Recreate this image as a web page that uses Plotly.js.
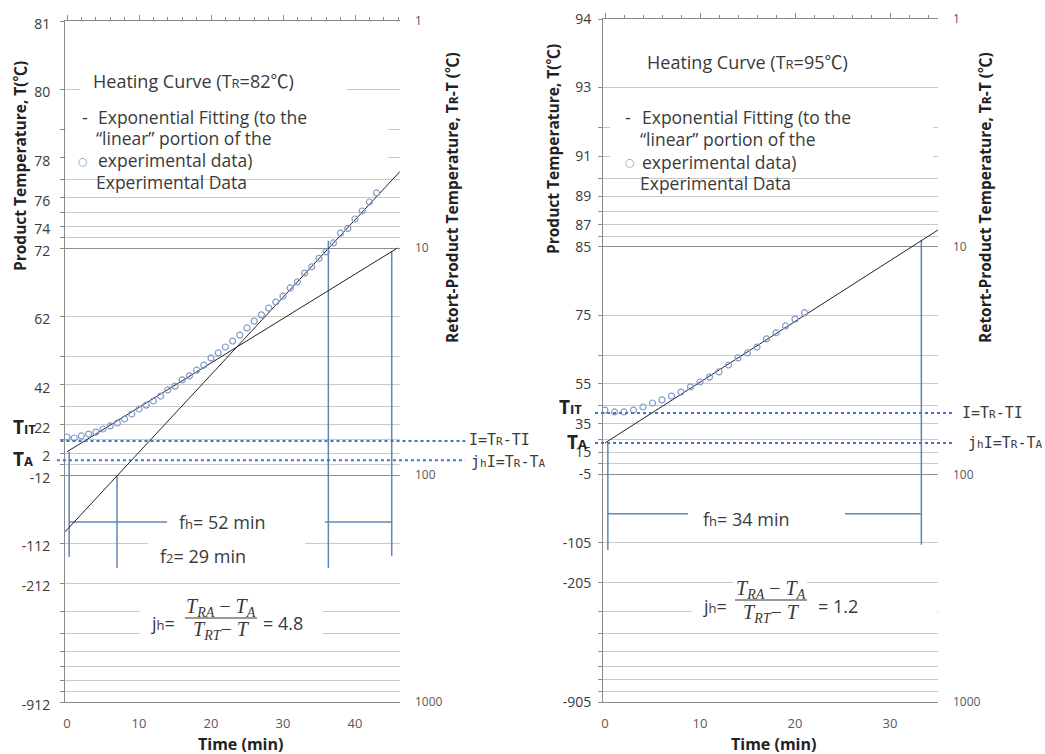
<!DOCTYPE html>
<html><head><meta charset="utf-8">
<script src="https://cdn.plot.ly/plotly-3.0.1.min.js"></script>
<style>html,body{margin:0;padding:0;background:#fff}</style>
</head><body>
<div id="chart" style="width:1045px;height:754px"></div>
<script>
// ---------------- DATA ----------------
// Left chart (TR = 82 C)
const timeLeft = [0,1,2,3,4,5,6,7,8,9,10,11,12,13,14,15,16,17,18,19,20,21,22,23,24,25,26,27,28,29,30,31,32,33,34,35,36,37,38,39,40,41,42,43];
const diffLeft = [68.0,68.7,67.3,66.0,64.7,62.7,60.8,59.0,56.7,53.9,51.2,49.2,47.2,44.9,42.2,40.6,38.1,36.6,34.5,32.8,30.5,29.0,27.3,25.7,24.2,22.5,21.0,19.7,18.4,17.3,16.3,15.0,14.1,12.9,12.1,11.1,10.4,9.5,8.6,8.2,7.45,6.87,6.27,5.72];
const fit1TimeLeft = [0, 45.9];
const fit1DiffLeft = [79, 10];
const fit2TimeLeft = [-0.28, 46.25];
const fit2DiffLeft = [178, 4.6];
const guideTimeLeft = [0.3, 0.3, null, 6.95, 6.95, null, 36.3, 36.3, null, 45.1, 45.1, null, 0.3, 45.1];
const guideDiffLeft = [79, 230, null, 100, 257, null, 9.3, 257, null, 10.3, 228, null, 161, 161];
const iLineTimeLeft = [-0.9, 55.3];
const iLineDiffLeft = [70.8, 70.8];
const jhiLineTimeLeft = [-1.4, 55.3];
const jhiLineDiffLeft = [86, 86];
const productTicksLeft = ['81','80','78','76','74','72','62','42','22','2','-12','-112','-212','-912'];

// Right chart (TR = 95 C)
const timeRight = [0,1,2,3,4,5,6,7,8,9,10,11,12,13,14,15,16,17,18,19,20,21];
const diffRight = [52.2,53.2,53.2,52.2,50.6,48.6,47.1,45.3,43.5,41.3,39.3,37.4,35.5,33.1,30.8,29.3,27.6,25.4,23.9,22.3,20.8,19.5];
const fitTimeRight = [0, 35.05];
const fitDiffRight = [72.8, 8.45];
const guideTimeRight = [0.3, 0.3, null, 33.3, 33.3, null, 0.3, 33.3];
const guideDiffRight = [72.8, 215, null, 9.35, 204, null, 149, 149];
const iLineTimeRight = [-1.05, 36.6];
const iLineDiffRight = [53.8, 53.8];
const jhiLineTimeRight = [-1.05, 36.6];
const jhiLineDiffRight = [72.8, 72.8];
const productTicksRight = ['94','93','91','89','87','85','75','55','35','15','-5','-105','-205','-905'];

// Shared tick definitions
const productTickVals = [1,2,4,6,8,10,20,40,60,80,100,200,300,1000];
const productMinorVals = [3,5,7,9,30,50,70,90,400,500,600,700,800,900];
const diffTickVals = [1,10,100,1000];
const diffTickText = ['1','10','100','1000'];
const diffMinorVals = [2,3,4,5,6,7,8,9,20,30,40,50,60,70,80,90,200,300,400,500,600,700,800,900];
const timeTicksLeft = [0,10,20,30,40];
const timeTicksRight = [0,10,20,30];

// ---------------- GEOMETRY (pixels) ----------------
const W = 1045, H = 754;
const px = x => x / W;
const py = y => 1 - y / H;
const L = {x0: 67, ppm: 7.2, left: 65, right: 400, top: 21, bottom: 702};
const R = {x0: 605, ppm: 9.5, left: 603, right: 938, top: 19, bottom: 702};
const rng = (g, a, b) => [(a - g.x0) / g.ppm, (b - g.x0) / g.ppm];

const SANS = '"Open Sans", "Noto Sans CJK KR", sans-serif';
const MONO = '"DejaVu Sans Mono", monospace';
const SERIF = '"Liberation Serif", "DejaVu Serif", serif';
const TXT = '#3a3a3a';
const AX = '#8a8a8a';
const DATA_COLOR = '#7f9bcc';
const GUIDE_COLOR = 'rgb(95,135,180)';
const DOT_COLOR = '#4472c4';

function xMain(g, ticks, anchor) {
  return {
    domain: [px(g.left), px(g.right)], range: rng(g, g.left, g.right), autorange: false, anchor: anchor,
    tickvals: ticks, ticktext: ticks.map(String), ticks: '', showgrid: false, zeroline: false,
    showline: true, linecolor: AX, linewidth: 1, tickfont: {family: SANS, size: 13, color: '#595959'},
    ticklabelstandoff: 9
  };
}
function xTop(g, over, anchor) {
  return {
    overlaying: over, side: 'top', anchor: anchor, range: rng(g, g.left, g.right), autorange: false,
    showticklabels: false, ticks: 'outside', ticklen: 5, tickcolor: AX, tickmode: 'linear', tick0: 0, dtick: 10,
    minor: {ticks: 'outside', ticklen: 3, tickcolor: AX, dtick: 2, tick0: 0, showgrid: false},
    showline: true, linecolor: AX, showgrid: false, zeroline: false
  };
}
function yLeft(g, text, anchor, standoff, shift) {
  return {
    domain: [py(g.bottom), py(g.top)], type: 'log', range: [3, 0], autorange: false, anchor: anchor,
    tickvals: productTickVals, ticktext: text, ticks: 'outside', ticklen: 4, tickcolor: AX,
    minor: {tickvals: productMinorVals, ticks: 'outside', ticklen: 4, tickcolor: AX, showgrid: false},
    showline: true, linecolor: AX, showgrid: false, zeroline: false,
    tickfont: {family: SANS, size: 14, color: TXT}, ticklabelstandoff: standoff, ticklabelshift: shift
  };
}
function yRight(g, over, anchor) {
  return {
    overlaying: over, side: 'right', anchor: anchor, type: 'log', range: [3, 0], autorange: false,
    tickvals: diffTickVals, ticktext: diffTickText, ticks: '', showline: false,
    showgrid: true, gridcolor: '#8f8f8f', gridwidth: 1,
    minor: {tickvals: diffMinorVals, showgrid: true, gridcolor: '#c9c9c9', gridwidth: 1, ticks: ''},
    zeroline: false, tickfont: {family: SANS, size: 12, color: '#595959'}, ticklabelstandoff: 14
  };
}
function overlayX(g, a, b, anchor) {
  return {domain: [px(a), px(b)], range: rng(g, a, b), autorange: false, visible: false, anchor: anchor};
}
function overlayY(g, anchor) {
  return {domain: [py(g.bottom), py(g.top)], type: 'log', range: [3, 0], autorange: false, visible: false, anchor: anchor};
}

// ---------------- TRACES ----------------
const hiddenMark = (xa, ya, t, v) => ({x: [t[0]], y: [v[0]], xaxis: xa, yaxis: ya, mode: 'markers', marker: {opacity: 0, size: 1}, hoverinfo: 'skip'});
const traces = [
  // axis registration (invisible)
  hiddenMark('x', 'y2', timeLeft, diffLeft),
  hiddenMark('x2', 'y', timeLeft, diffLeft),
  hiddenMark('x3', 'y4', timeRight, diffRight),
  hiddenMark('x4', 'y3', timeRight, diffRight),

  {x: guideTimeLeft, y: guideDiffLeft, xaxis: 'x', yaxis: 'y', mode: 'lines', line: {color: GUIDE_COLOR, width: 1.5}, connectgaps: false},
  {x: fit1TimeLeft, y: fit1DiffLeft, xaxis: 'x', yaxis: 'y', mode: 'lines', line: {color: '#222', width: 1}},
  {x: fit2TimeLeft, y: fit2DiffLeft, xaxis: 'x', yaxis: 'y', mode: 'lines', line: {color: '#222', width: 1}},
  {x: timeLeft, y: diffLeft, xaxis: 'x', yaxis: 'y', mode: 'markers', marker: {symbol: 'circle-open', size: 6, color: DATA_COLOR, line: {width: 1.2}}},
  {x: iLineTimeLeft, y: iLineDiffLeft, xaxis: 'x5', yaxis: 'y5', mode: 'lines', line: {color: DOT_COLOR, width: 2, dash: 'dot'}},
  {x: jhiLineTimeLeft, y: jhiLineDiffLeft, xaxis: 'x5', yaxis: 'y5', mode: 'lines', line: {color: DOT_COLOR, width: 2, dash: 'dot'}},

  {x: guideTimeRight, y: guideDiffRight, xaxis: 'x3', yaxis: 'y3', mode: 'lines', line: {color: GUIDE_COLOR, width: 1.5}, connectgaps: false},
  {x: fitTimeRight, y: fitDiffRight, xaxis: 'x3', yaxis: 'y3', mode: 'lines', line: {color: '#222', width: 1}},
  {x: timeRight, y: diffRight, xaxis: 'x3', yaxis: 'y3', mode: 'markers', marker: {symbol: 'circle-open', size: 6, color: DATA_COLOR, line: {width: 1.2}}},
  {x: iLineTimeRight, y: iLineDiffRight, xaxis: 'x6', yaxis: 'y6', mode: 'lines', line: {color: DOT_COLOR, width: 2, dash: 'dot'}},
  {x: jhiLineTimeRight, y: jhiLineDiffRight, xaxis: 'x6', yaxis: 'y6', mode: 'lines', line: {color: DOT_COLOR, width: 2, dash: 'dot'}}
];

// ---------------- TEXT ----------------
const sm = (s, n) => '<span style="font-size:' + (n || 13) + 'px">' + s + '</span>';
function txt(text, x, y, o) {
  o = o || {};
  return {
    text: text, x: px(x), y: py(y), xref: 'paper', yref: 'paper', showarrow: false,
    xanchor: o.xanchor || 'center', yanchor: o.yanchor || 'middle', align: 'left',
    textangle: o.angle || 0, borderpad: o.pad === undefined ? 1 : o.pad,
    font: {family: o.family || SANS, size: o.size || 18, color: o.color || TXT, weight: o.weight || 'normal'}
  };
}
const numer = '<i>T<sub>RA</sub></i> \u2212 <i>T<sub>A</sub></i>';
const denom = '<i>T<sub>RT</sub></i>\u2212 <i>T</i>';
const BOLD = {weight: 'bold', color: '#222'};

const annotations = [
  // left chart
  txt('Heating Curve (T' + sm('R') + '=82\u2103)', 91, 81, {xanchor: 'left'}),
  txt('-', 80, 117, {xanchor: 'left'}),
  txt('Exponential Fitting (to the', 96, 117, {xanchor: 'left', size: 17.5}),
  txt('\u201clinear\u201d portion of the', 94, 138, {xanchor: 'left', size: 17.5}),
  txt('\u25cb', 76, 161, {xanchor: 'left', size: 11, color: DATA_COLOR, family: '"DejaVu Sans", sans-serif'}),
  txt('experimental data)', 96, 160, {xanchor: 'left', size: 17.5}),
  txt('Experimental Data', 94, 182, {xanchor: 'left', size: 17.5}),
  txt('f' + sm('h') + '= 52 min', 222, 522),
  txt('f' + sm('2') + '= 29 min', 203, 556),
  txt('j' + sm('h') + '=', 163, 623),
  txt(numer, 221, 607, {family: SERIF, size: 20}),
  txt(denom, 221, 630, {family: SERIF, size: 20}),
  txt('= 4.8', 283, 623),
  txt('T' + sm('IT', 13), 11, 427, Object.assign({xanchor: 'left', size: 19}, BOLD)),
  txt('T' + sm('A', 13), 11, 459, Object.assign({xanchor: 'left', size: 19}, BOLD)),
  txt('I=T' + sm('R', 11) + '-TI', 467, 440, {xanchor: 'left', family: MONO, size: 15}),
  txt('j' + sm('h', 11) + 'I=T' + sm('R', 11) + '-T' + sm('A', 11), 469, 462, {xanchor: 'left', family: MONO, size: 15}),
  txt('Product Temperature, T(\u2103)', 20, 166, Object.assign({angle: -90, size: 15.5}, BOLD)),
  txt('Retort-Product Temperature, T' + sm('R', 12) + '-T (\u2103)', 452, 198, Object.assign({angle: -90, size: 15.5}, BOLD)),
  txt('Time (min)', 240, 744, Object.assign({size: 16, pad: 0}, BOLD)),

  // right chart
  txt('Heating Curve (T' + sm('R') + '=95\u2103)', 645, 62, {xanchor: 'left'}),
  txt('-', 623, 117, {xanchor: 'left'}),
  txt('Exponential Fitting (to the', 640, 117, {xanchor: 'left', size: 17.5}),
  txt('\u201clinear\u201d portion of the', 638, 139, {xanchor: 'left', size: 17.5}),
  txt('\u25cb', 623, 163, {xanchor: 'left', size: 11, color: DATA_COLOR, family: '"DejaVu Sans", sans-serif'}),
  txt('experimental data)', 640, 162, {xanchor: 'left', size: 17.5}),
  txt('Experimental Data', 638, 183, {xanchor: 'left', size: 17.5}),
  txt('f' + sm('h') + '= 34 min', 746, 519),
  txt('j' + sm('h') + '=', 715, 606),
  txt(numer, 771, 589, {family: SERIF, size: 20}),
  txt(denom, 771, 613, {family: SERIF, size: 20}),
  txt('= 1.2', 838, 606),
  txt('T' + sm('IT', 13), 557, 407, Object.assign({xanchor: 'left', size: 19}, BOLD)),
  txt('T' + sm('A', 13), 565, 442, Object.assign({xanchor: 'left', size: 19}, BOLD)),
  txt('I=T' + sm('R', 11) + '-TI', 960, 413, {xanchor: 'left', family: MONO, size: 15}),
  txt('j' + sm('h', 11) + 'I=T' + sm('R', 11) + '-T' + sm('A', 11), 966, 443, {xanchor: 'left', family: MONO, size: 15}),
  txt('Product Temperature, T(\u2103)', 553, 149, Object.assign({angle: -90, size: 15.5}, BOLD)),
  txt('Retort-Product Temperature, T' + sm('R', 12) + '-T (\u2103)', 985, 198, Object.assign({angle: -90, size: 15.5}, BOLD)),
  txt('Time (min)', 773, 744, Object.assign({size: 16, pad: 0}, BOLD))
];

// white boxes behind the text blocks (they interrupt the grid lines)
function mask(x0, y0, x1, y1) {
  return {type: 'rect', xref: 'paper', yref: 'paper', x0: px(x0), x1: px(x1), y0: py(y1), y1: py(y0),
          fillcolor: '#ffffff', line: {width: 0}, layer: 'above'};
}
function bar(x0, x1, y) {
  return {type: 'line', xref: 'paper', yref: 'paper', x0: px(x0), x1: px(x1), y0: py(y), y1: py(y),
          line: {color: '#333', width: 1}, layer: 'above'};
}
const shapes = [
  mask(80, 74, 347, 100), mask(66, 105, 388, 170), mask(167, 512, 325, 533), mask(148, 537, 305, 565), mask(140, 598, 323, 646),
  mask(610, 110, 933, 170), mask(688, 506, 845, 523), mask(733, 576, 807, 592), mask(692, 603, 937, 621),
  bar(185, 257, 618), bar(735, 807, 600)
];

const layout = {
  width: W, height: H, margin: {l: 0, r: 0, t: 0, b: 0},
  paper_bgcolor: '#ffffff', plot_bgcolor: 'rgba(0,0,0,0)', showlegend: false,
  xaxis: xMain(L, timeTicksLeft, 'y'),
  xaxis2: xTop(L, 'x', 'y'),
  yaxis: yLeft(L, productTicksLeft, 'x', 7, -3),
  yaxis2: yRight(L, 'y', 'x'),
  xaxis3: xMain(R, timeTicksRight, 'y3'),
  xaxis4: xTop(R, 'x3', 'y3'),
  yaxis3: yLeft(R, productTicksRight, 'x3', 4, 0),
  yaxis4: yRight(R, 'y3', 'x3'),
  xaxis5: overlayX(L, 50, 480, 'y5'),
  yaxis5: overlayY(L, 'x5'),
  xaxis6: overlayX(R, 585, 1000, 'y6'),
  yaxis6: overlayY(R, 'x6'),
  annotations: annotations,
  shapes: shapes
};

Plotly.newPlot('chart', traces, layout, {staticPlot: true, displayModeBar: false});
</script>
</body></html>
